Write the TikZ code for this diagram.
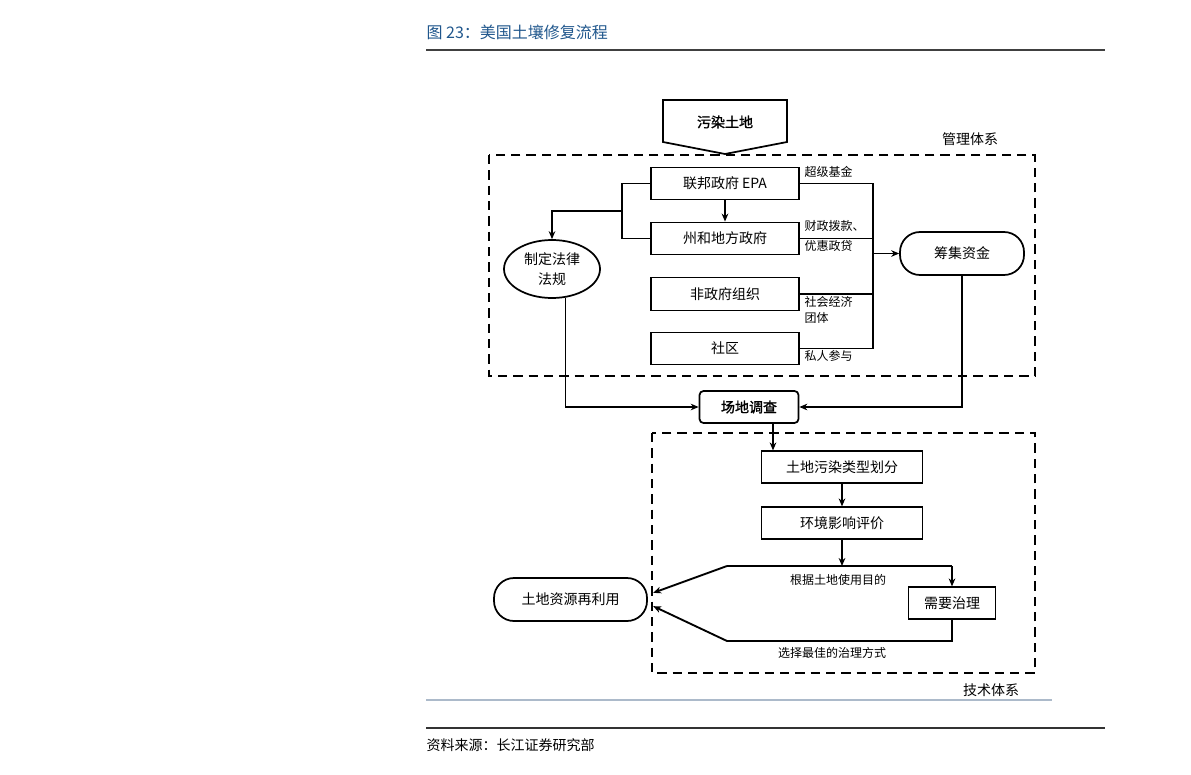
\documentclass[tikz,border=0pt]{standalone}
\usepackage{fontspec}
\newfontfamily\cjk{Noto Sans CJK SC}
\newfontfamily\cjkb[FakeBold=1.5]{Noto Sans CJK SC}
\usetikzlibrary{shapes.geometric,arrows.meta}
\definecolor{capblue}{RGB}{31,86,140}
\definecolor{rulegray}{RGB}{172,186,202}

\begin{document}
\begin{tikzpicture}[x=.75pt,y=-.75pt,>={Stealth[length=6pt,width=5pt]},
    font=\cjk\fontsize{10.5}{12}\selectfont,line width=.8pt,
    box/.style={draw,line width=.9pt,inner sep=0pt,minimum width=111pt,minimum height=24.5pt},
    techbox/.style={box,minimum width=120.75pt,minimum height=24pt},
    pill/.style={draw,line width=1.3pt,inner sep=0pt,rounded corners=15pt},
    dashbox/.style={line width=1.6pt,dash pattern=on 7pt off 4.5pt},
    note/.style={font=\cjk\fontsize{9}{10.5}\selectfont,inner sep=0pt},
    bold arrow/.style={->,line width=1.4pt}]
  \useasboundingbox (0,0) rectangle (1191,774);

  \node[anchor=west,inner sep=0pt,text=capblue,font=\cjk\fontsize{12}{14}\selectfont]
    (title) at (426,32) {图 23：美国土壤修复流程};
  \draw[line width=1.5pt,black!75] (426,50) -- (1105,50);

  \draw[line width=1.3pt] (663,100) -- (787,100) -- (787,142) -- (725,154) -- (663,142) -- cycle;
  \node (soil) at (725,122) {\cjkb 污染土地};

  \draw[dashbox] (489,155) rectangle (1035,376);
  \node[inner sep=0pt] (mgmt) at (970,139) {管理体系};

  \node[box] (epa) at (725,183.5) {联邦政府 EPA};
  \node[box] (state) at (725,238.5) {州和地方政府};
  \node[box] (ngo) at (725,294) {非政府组织};
  \node[box] (comm) at (725,348.5) {社区};
  \node[draw,ellipse,line width=1.3pt,inner sep=0pt,minimum width=72pt,minimum height=43.5pt,
    align=center] (law) at (552,269) {制定法律\\[3pt]法规};
  \node[pill,minimum width=93pt,minimum height=32.25pt] (fund) at (962,253.5) {筹集资金};

  \node[note,anchor=west] (lbsuper) at (804,172) {超级基金};
  \node[note,anchor=west] (lbgrant) at (804,226) {财政拨款、};
  \node[note,anchor=west] (lbloan) at (804,246) {优惠政贷};
  \node[note,anchor=west] (lbsoc) at (804,302) {社会经济};
  \node[note,anchor=west] (lbgroup) at (804,318) {团体};
  \node[note,anchor=west] (lbpriv) at (804,356) {私人参与};

  \coordinate (lj) at (622,211);
  \coordinate (rj) at (873,253.5);
  \draw (epa.west) -| (lj) |- (state.west);
  \draw[->] (lj) -| (law.north);
  \draw[bold arrow] (epa) -- (state);
  \draw (epa.east) -| (rj) |- (comm.east);
  \draw (state.east) -- (state.east -| rj);
  \draw (ngo.east) -- (ngo.east -| rj);
  \draw[->] (rj) -- (fund.west);

  \node[draw,line width=1.3pt,rounded corners=3pt,inner sep=0pt,minimum width=74.25pt,
    minimum height=24pt] (survey) at (749,407) {\cjkb 场地调查};
  \draw[->] (law.-65) |- (survey.west);
  \draw[->] (fund.south) |- (survey.east);

  \draw[dashbox] (652,433) rectangle (1035,673);
  \node[inner sep=0pt] (tech) at (991,690) {技术体系};

  \node[techbox] (classify) at (842,467) {土地污染类型划分};
  \node[techbox] (assess) at (842,523) {环境影响评价};
  \node[box,minimum width=65.25pt,minimum height=24pt] (treat) at (952,603) {需要治理};
  \node[pill,minimum width=114.75pt,minimum height=32.25pt] (reuse) at (570.5,599.5) {土地资源再利用};

  \draw[bold arrow] ([xshift=18pt]survey.south) -- ([xshift=18pt]survey.south |- classify.north);
  \draw[bold arrow] (classify) -- (assess);
  \coordinate (split) at (842,566);
  \coordinate (ul) at (727,566);
  \coordinate (ur) at (952,566);
  \coordinate (ll) at (727,641);
  \draw[bold arrow] (assess) -- (split);
  \draw (ul) -- (ur);
  \draw[bold arrow] (ur) -- (treat);
  \draw[bold arrow] (ul) -- ([xshift=4pt,yshift=5pt]reuse.east);
  \draw[bold arrow] (treat.south) |- (ll) -- ([xshift=4pt,yshift=-5pt]reuse.east);
  \node[note] (lbuse) at (838,580) {根据土地使用目的};
  \node[note] (lbbest) at (832,653) {选择最佳的治理方式};

  \draw[rulegray,line width=2pt] (426,700) -- (1052,700);
  \draw[line width=1pt,black!80] (426,728) -- (1105,728);
  \node[anchor=west,inner sep=0pt] (source) at (426,745) {资料来源：长江证券研究部};
\end{tikzpicture}
\end{document}
